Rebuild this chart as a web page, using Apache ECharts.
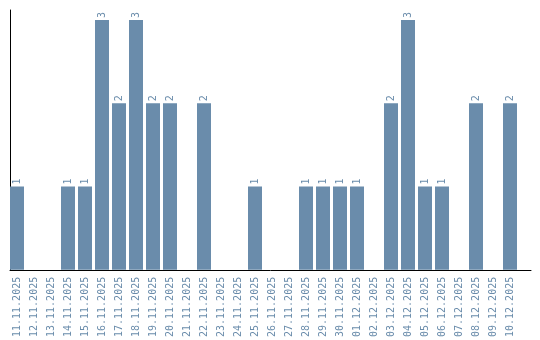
<!DOCTYPE html>
<html><head><meta charset="utf-8">
<script src="https://cdn.jsdelivr.net/npm/echarts@6/dist/echarts.min.js"></script>
<style>html,body{margin:0;padding:0;background:#fff}#c{width:540px;height:340px}</style>
</head><body><div id="c"></div>
<script>
const categories = ["11.11.2025","12.11.2025","13.11.2025","14.11.2025","15.11.2025","16.11.2025","17.11.2025","18.11.2025","19.11.2025","20.11.2025","21.11.2025","22.11.2025","23.11.2025","24.11.2025","25.11.2025","26.11.2025","27.11.2025","28.11.2025","29.11.2025","30.11.2025","01.12.2025","02.12.2025","03.12.2025","04.12.2025","05.12.2025","06.12.2025","07.12.2025","08.12.2025","09.12.2025","10.12.2025"];
const values = [1,0,0,1,1,3,2,3,2,2,0,2,0,0,1,0,0,1,1,1,1,0,2,3,1,1,0,2,0,2];
const color = '#6a8cab';
const chart = echarts.init(document.getElementById('c'), null, {renderer:'canvas'});
chart.setOption({
  animation:false,
  grid:[
    {left:8.5,width:510,top:10,bottom:70,containLabel:false},
    {left:10,right:9,top:10,bottom:70,containLabel:false}
  ],
  xAxis:[
    {gridIndex:0,type:'category',data:categories,
      axisLine:{show:false},
      axisTick:{show:false},
      axisLabel:{rotate:90,interval:0,color:color,fontFamily:'DejaVu Sans Mono',fontSize:10,margin:7}},
    {gridIndex:1,type:'value',min:0,max:1,
      axisLine:{show:true,onZero:false,lineStyle:{color:'#000',width:1}},
      axisTick:{show:false},axisLabel:{show:false},splitLine:{show:false}}
  ],
  yAxis:[
    {gridIndex:0,type:'value',min:0,max:3.12,
      axisLine:{show:false},axisTick:{show:false},axisLabel:{show:false},splitLine:{show:false}},
    {gridIndex:1,type:'value',min:0,max:1,
      axisLine:{show:true,onZero:false,lineStyle:{color:'#000',width:1}},
      axisTick:{show:false},axisLabel:{show:false},splitLine:{show:false}}
  ],
  series:[{type:'bar',xAxisIndex:0,yAxisIndex:0,data:values.map(v=>v===0?null:v),barWidth:14,
    itemStyle:{color:color},
    label:{show:true,position:'top',rotate:90,align:'left',verticalAlign:'middle',distance:2,
      color:color,fontFamily:'DejaVu Sans Mono',fontSize:10}}]
});
</script></body></html>
